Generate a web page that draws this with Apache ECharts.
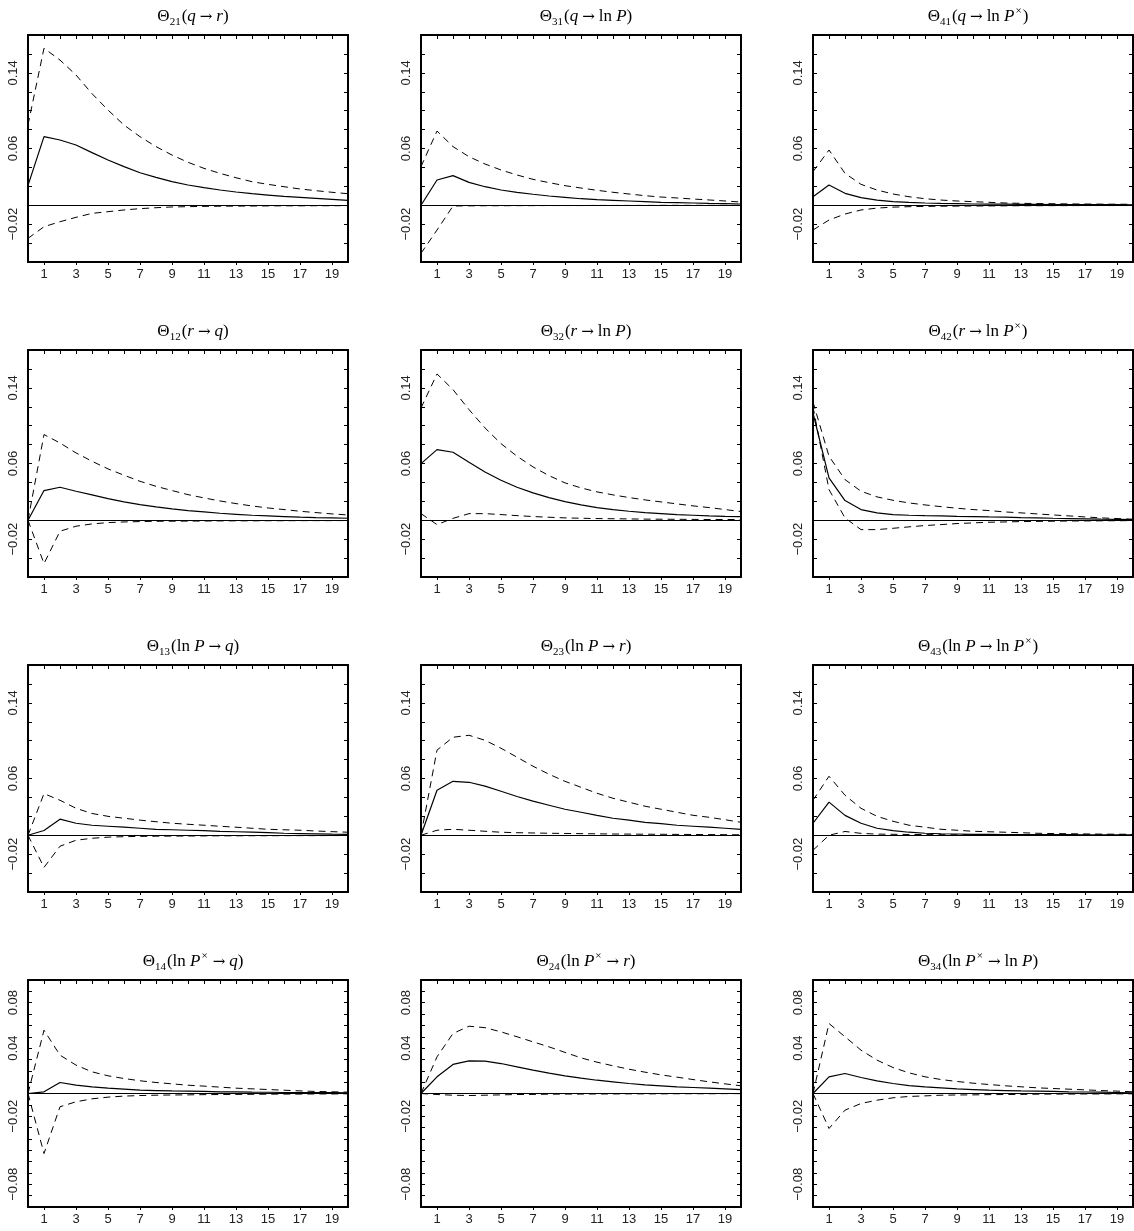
<!DOCTYPE html>
<html>
<head>
<meta charset="utf-8">
<title>impulse responses</title>
<script src="https://cdn.jsdelivr.net/npm/echarts@6/dist/echarts.min.js"></script>
<style>
html, body { margin: 0; padding: 0; background: #fff; }
#main { width: 1134px; height: 1231px; }
</style>
</head>
<body>
<div id="main"></div>
<script>
// horizon 0..20
var horizon = [0,1,2,3,4,5,6,7,8,9,10,11,12,13,14,15,16,17,18,19,20];

// row 1
var t21_mid = [0.021,0.0725,0.069,0.0637,0.0556,0.0478,0.0408,0.0344,0.0295,0.0249,0.0214,0.0186,0.0161,0.014,0.0122,0.0108,0.0094,0.0084,0.0073,0.0063,0.0052];
var t21_hi  = [0.085,0.166,0.1535,0.1377,0.118,0.1007,0.0848,0.0725,0.062,0.0531,0.0454,0.039,0.0337,0.0291,0.0249,0.0221,0.0196,0.0172,0.0154,0.0137,0.0122];
var t21_lo  = [-0.035,-0.0227,-0.0174,-0.0128,-0.0086,-0.0068,-0.005,-0.0036,-0.0026,-0.0018,-0.0015,-0.0012,-0.001,-0.0009,-0.0008,-0.0007,-0.0006,-0.0006,-0.0005,-0.0005,-0.0004];

var t31_mid = [0,0.0267,0.0313,0.0242,0.0196,0.0161,0.0137,0.0116,0.0098,0.0084,0.0069,0.0059,0.0052,0.0045,0.0038,0.0031,0.0028,0.0024,0.002,0.0017,0.0013];
var t31_hi  = [0.0408,0.0785,0.062,0.0513,0.0436,0.0373,0.032,0.0274,0.0239,0.0207,0.0182,0.0158,0.0137,0.0119,0.0101,0.0087,0.0077,0.0066,0.0056,0.0045,0.0034];
var t31_lo  = [-0.0508,-0.0262,-0.0008,-0.0006,-0.0005,-0.0005,-0.0004,-0.0004,-0.0003,-0.0003,-0.0003,-0.0002,-0.0002,-0.0002,-0.0002,-0.0001,-0.0001,-0.0001,-0.0001,-0.0001,-0.0001];

var t41_mid = [0.009,0.0214,0.0126,0.008,0.0055,0.0038,0.003,0.0024,0.002,0.0017,0.0013,0.0012,0.0011,0.001,0.0009,0.0008,0.0007,0.0007,0.0006,0.0006,0.0005];
var t41_hi  = [0.0355,0.0584,0.0337,0.0221,0.0161,0.0119,0.009,0.0069,0.0055,0.0045,0.0038,0.0031,0.0024,0.002,0.0018,0.0016,0.0014,0.0013,0.0012,0.0011,0.001];
var t41_lo  = [-0.0262,-0.0156,-0.0093,-0.005,-0.003,-0.002,-0.0015,-0.0012,-0.001,-0.0009,-0.0008,-0.0007,-0.0006,-0.0005,-0.0005,-0.0004,-0.0004,-0.0003,-0.0003,-0.0003,-0.0003];

// row 2
var t12_mid = [0,0.0314,0.0349,0.0307,0.0268,0.0229,0.0194,0.0166,0.0141,0.012,0.0102,0.0088,0.0074,0.0063,0.0053,0.0046,0.0039,0.0032,0.0028,0.0025,0.0021];
var t12_hi  = [0,0.0906,0.0817,0.0712,0.0624,0.0543,0.0476,0.0412,0.0359,0.0314,0.0271,0.0236,0.0204,0.0176,0.0151,0.013,0.0113,0.0095,0.0081,0.0067,0.0056];
var t12_lo  = [0,-0.0458,-0.0116,-0.0063,-0.0039,-0.0025,-0.0018,-0.0014,-0.0011,-0.001,-0.0009,-0.0008,-0.0007,-0.0006,-0.0006,-0.0005,-0.0005,-0.0004,-0.0004,-0.0004,-0.0003];

var t32_mid = [0.0599,0.0747,0.0719,0.0613,0.0511,0.0423,0.0349,0.0289,0.024,0.0197,0.0162,0.0134,0.0113,0.0095,0.0081,0.007,0.006,0.0053,0.0046,0.0042,0.0039];
var t32_hi  = [0.1187,0.1547,0.1381,0.117,0.0976,0.081,0.0677,0.0564,0.0472,0.0395,0.0342,0.03,0.0268,0.024,0.0215,0.0194,0.0173,0.0152,0.0134,0.0113,0.0092];
var t32_lo  = [0.007,-0.0046,0.002,0.007,0.007,0.006,0.0049,0.0039,0.0032,0.0025,0.0021,0.0018,0.0016,0.0014,0.0012,0.0011,0.001,0.0009,0.0008,0.0008,0.0007];

var t42_mid = [0.1134,0.0447,0.0208,0.0113,0.0078,0.006,0.0053,0.0049,0.0046,0.0042,0.0039,0.0035,0.0032,0.0028,0.0025,0.0021,0.0018,0.0015,0.0012,0.001,0.0007];
var t42_hi  = [0.125,0.0677,0.043,0.0307,0.0247,0.0211,0.0183,0.0162,0.0144,0.0127,0.0113,0.0102,0.0088,0.0078,0.0067,0.0056,0.0046,0.0035,0.0025,0.0018,0.0011];
var t42_lo  = [0.12,0.0324,0.0025,-0.0099,-0.0099,-0.0085,-0.007,-0.0056,-0.0046,-0.0035,-0.0028,-0.0021,-0.0018,-0.0014,-0.0012,-0.001,-0.0008,-0.0007,-0.0006,-0.0005,-0.0004];

// row 3
var t13_mid = [0,0.005,0.017,0.0127,0.0106,0.0095,0.0085,0.0074,0.0063,0.0058,0.0053,0.0048,0.0042,0.0037,0.0032,0.0027,0.0021,0.0018,0.0015,0.0012,0.001];
var t13_hi  = [0,0.044,0.037,0.0285,0.023,0.02,0.018,0.016,0.0143,0.0127,0.0116,0.0106,0.0095,0.0085,0.0074,0.0063,0.0058,0.0053,0.0045,0.0038,0.0032];
var t13_lo  = [0,-0.034,-0.0116,-0.0053,-0.0032,-0.002,-0.0015,-0.0012,-0.001,-0.0009,-0.0008,-0.0007,-0.0006,-0.0006,-0.0005,-0.0005,-0.0004,-0.0004,-0.0004,-0.0003,-0.0003];

var t23_mid = [0,0.0476,0.057,0.056,0.052,0.0465,0.041,0.036,0.0317,0.0275,0.0243,0.0211,0.018,0.0159,0.0137,0.0122,0.0106,0.0095,0.0085,0.0074,0.0063];
var t23_hi  = [0,0.09,0.1036,0.1057,0.1004,0.092,0.0825,0.073,0.0645,0.057,0.0507,0.0444,0.0391,0.0349,0.0307,0.0275,0.0243,0.0211,0.019,0.0164,0.0137];
var t23_lo  = [0,0.0053,0.0063,0.0053,0.0042,0.0032,0.0027,0.0024,0.0021,0.0019,0.0017,0.0015,0.0013,0.0012,0.0011,0.001,0.0009,0.0008,0.0007,0.0006,0.0005];

var t43_mid = [0.0127,0.035,0.021,0.0127,0.0074,0.0048,0.0032,0.0021,0.0016,0.0013,0.001,0.0009,0.0008,0.0007,0.0007,0.0006,0.0006,0.0005,0.0005,0.0005,0.0005];
var t43_hi  = [0.037,0.0624,0.0423,0.0285,0.02,0.0148,0.0106,0.0085,0.0063,0.0053,0.0042,0.0037,0.0032,0.0027,0.0021,0.0018,0.0016,0.0014,0.0012,0.0011,0.001];
var t43_lo  = [-0.0159,0,0.004,0.002,0.0012,0.001,0.0008,0.0007,0.0006,0.0005,0.0005,0.0004,0.0004,0.0004,0.0003,0.0003,0.0003,0.0003,0.0002,0.0002,0.0002];

// row 4
var t14_mid = [0,0.0015,0.0097,0.0073,0.0059,0.0047,0.0038,0.0029,0.0026,0.0023,0.0021,0.0018,0.0015,0.0014,0.0012,0.0011,0.0009,0.0008,0.0007,0.0007,0.0006];
var t14_hi  = [0,0.0558,0.0338,0.025,0.0191,0.0156,0.0132,0.0112,0.0097,0.0085,0.0073,0.0065,0.0056,0.0047,0.0041,0.0035,0.0029,0.0023,0.0018,0.0015,0.0012];
var t14_lo  = [0,-0.0529,-0.0117,-0.0073,-0.0047,-0.0032,-0.0023,-0.0018,-0.0015,-0.0013,-0.0012,-0.001,-0.0009,-0.0008,-0.0007,-0.0006,-0.0005,-0.0005,-0.0004,-0.0004,-0.0003];

var t24_mid = [0,0.0147,0.0256,0.0288,0.0285,0.0264,0.0235,0.0206,0.0179,0.0156,0.0135,0.0117,0.0103,0.0088,0.0076,0.0068,0.0059,0.0053,0.0047,0.0041,0.0035];
var t24_hi  = [0,0.0323,0.0529,0.0593,0.058,0.0543,0.05,0.0455,0.0411,0.0362,0.0314,0.0276,0.0244,0.0214,0.0188,0.0164,0.0144,0.0123,0.0103,0.0085,0.0068];
var t24_lo  = [0,-0.0009,-0.0015,-0.0018,-0.0015,-0.0012,-0.0009,-0.0008,-0.0006,-0.0005,-0.0005,-0.0004,-0.0004,-0.0003,-0.0003,-0.0003,-0.0002,-0.0002,-0.0002,-0.0001,-0.0001];

var t34_mid = [0,0.0147,0.0176,0.0141,0.0112,0.0088,0.007,0.0059,0.005,0.0041,0.0035,0.0029,0.0026,0.0023,0.0021,0.0018,0.0015,0.0013,0.0012,0.0009,0.0006];
var t34_hi  = [0,0.0617,0.05,0.0382,0.0294,0.0229,0.0182,0.0147,0.0123,0.0106,0.0091,0.0079,0.0068,0.0059,0.005,0.0044,0.0038,0.0032,0.0026,0.0021,0.0015];
var t34_lo  = [0,-0.0308,-0.0147,-0.0088,-0.0059,-0.0038,-0.0026,-0.0021,-0.0015,-0.0013,-0.0012,-0.001,-0.0009,-0.0008,-0.0006,-0.0005,-0.0005,-0.0004,-0.0004,-0.0003,-0.0003];

// axis ticks / labels
var xLabels = [1,3,5,7,9,11,13,15,17,19];
var yLabelsTop = [-0.02, 0.06, 0.14];
var yLabelsBottom = [-0.08, -0.02, 0.04, 0.08];

// titles: rich text pieces
var titles = [
  ['{n|Θ}{sb|21}{n|(}{i|q}{a|→}{i|r}{n|)}', '{n|Θ}{sb|31}{n|(}{i|q}{a|→}{n|ln }{i|P}{n|)}', '{n|Θ}{sb|41}{n|(}{i|q}{a|→}{n|ln }{i|P}{sp|×}{n|)}'],
  ['{n|Θ}{sb|12}{n|(}{i|r}{a|→}{i|q}{n|)}', '{n|Θ}{sb|32}{n|(}{i|r}{a|→}{n|ln }{i|P}{n|)}', '{n|Θ}{sb|42}{n|(}{i|r}{a|→}{n|ln }{i|P}{sp|×}{n|)}'],
  ['{n|Θ}{sb|13}{n|(ln }{i|P}{a|→}{i|q}{n|)}', '{n|Θ}{sb|23}{n|(ln }{i|P}{a|→}{i|r}{n|)}', '{n|Θ}{sb|43}{n|(ln }{i|P}{a|→}{n|ln }{i|P}{sp|×}{n|)}'],
  ['{n|Θ}{sb|14}{n|(ln }{i|P}{sp|×}{a|→}{i|q}{n|)}', '{n|Θ}{sb|24}{n|(ln }{i|P}{sp|×}{a|→}{i|r}{n|)}', '{n|Θ}{sb|34}{n|(ln }{i|P}{sp|×}{a|→}{n|ln }{i|P}{n|)}']
];
var panelData = [
  [[t21_lo, t21_mid, t21_hi], [t31_lo, t31_mid, t31_hi], [t41_lo, t41_mid, t41_hi]],
  [[t12_lo, t12_mid, t12_hi], [t32_lo, t32_mid, t32_hi], [t42_lo, t42_mid, t42_hi]],
  [[t13_lo, t13_mid, t13_hi], [t23_lo, t23_mid, t23_hi], [t43_lo, t43_mid, t43_hi]],
  [[t14_lo, t14_mid, t14_hi], [t24_lo, t24_mid, t24_hi], [t34_lo, t34_mid, t34_hi]]
];

var rowTop = [35, 350, 665, 980];
var colLeft = [28, 421, 813];
var boxW = 320, boxH = 227;

var serif = "'Liberation Serif', 'DejaVu Serif', serif";
var sans = "'Liberation Sans', 'DejaVu Sans', sans-serif";

function pairs(ys){
  var out = [];
  for (var i = 0; i < horizon.length; i++) out.push([horizon[i], ys[i]]);
  return out;
}
function fmtY(v){
  return v.toFixed(2).replace('-', '\u2212');
}

var grids = [], xAxes = [], yAxes = [], series = [], titleList = [];
var rich = {
  n:  { fontFamily: serif, fontSize: 17, fontWeight: 'normal', color: '#000', lineHeight: 22 },
  i:  { fontFamily: serif, fontSize: 17, fontWeight: 'normal', color: '#000', fontStyle: 'italic', lineHeight: 22 },
  a:  { fontFamily: "'DejaVu Serif', serif", fontSize: 15, fontWeight: 'normal', color: '#000', lineHeight: 22, padding: [0, 4, 0, 4] },
  sb: { fontFamily: serif, fontSize: 11, fontWeight: 'normal', color: '#000', lineHeight: 11, verticalAlign: 'bottom', padding: [0, 1, 0, 0] },
  sp: { fontFamily: serif, fontSize: 11, fontWeight: 'normal', color: '#000', lineHeight: 11, verticalAlign: 'top', padding: [0, 1, 0, 1] }
};

for (var r = 0; r < 4; r++) {
  for (var c = 0; c < 3; c++) {
    var g = grids.length;
    var bottomRow = (r === 3);
    grids.push({ left: colLeft[c], top: rowTop[r], width: boxW, height: boxH });

    titleList.push({
      text: titles[r][c],
      left: colLeft[c] + boxW / 2,
      top: rowTop[r] - 34,
      textAlign: 'center',
      textStyle: { fontWeight: 'normal', rich: rich }
    });

    var axLine = { show: true, onZero: false, lineStyle: { color: '#000', width: 2 } };
    // bottom x
    xAxes.push({
      gridIndex: g, type: 'value', min: 0, max: 20, interval: 1,
      axisLine: axLine, splitLine: { show: false },
      axisTick: { show: true, inside: false, length: 3, customValues: xLabels, lineStyle: { color: '#000' } },
      axisLabel: { customValues: xLabels, margin: 6, fontFamily: sans, fontSize: 13, color: '#222' }
    });
    // top x (frame + ticks)
    xAxes.push({
      gridIndex: g, type: 'value', position: 'top', min: 0, max: 20, interval: 1,
      axisLine: axLine, splitLine: { show: false },
      axisTick: { show: true, inside: true, length: 4, lineStyle: { color: '#000' } },
      axisLabel: { show: false }
    });
    var ymin = bottomRow ? -0.1 : -0.06;
    var ymax = bottomRow ? 0.1 : 0.18;
    var yint = bottomRow ? 0.01 : 0.02;
    yAxes.push({
      gridIndex: g, type: 'value', min: ymin, max: ymax, interval: yint,
      axisLine: axLine, splitLine: { show: false },
      axisTick: { show: true, inside: true, length: 4, lineStyle: { color: '#000' } },
      axisLabel: {
        customValues: bottomRow ? yLabelsBottom : yLabelsTop,
        rotate: 90, margin: 8, fontFamily: sans, fontSize: 13, color: '#222',
        formatter: fmtY
      }
    });
    yAxes.push({
      gridIndex: g, type: 'value', position: 'right', min: ymin, max: ymax, interval: yint,
      axisLine: axLine, splitLine: { show: false },
      axisTick: { show: true, inside: true, length: 4, lineStyle: { color: '#000' } },
      axisLabel: { show: false }
    });

    var d = panelData[r][c];
    var xi = g * 2, yi = g * 2;
    series.push({
      type: 'line', xAxisIndex: xi, yAxisIndex: yi, data: pairs(d[1]),
      showSymbol: false, symbol: 'none', silent: true,
      lineStyle: { color: '#000', width: 1.2, type: 'solid' },
      markLine: {
        silent: true, symbol: 'none', animation: false,
        label: { show: false },
        lineStyle: { color: '#000', width: 1, type: 'solid' },
        data: [{ yAxis: 0 }]
      }
    });
    series.push({
      type: 'line', xAxisIndex: xi, yAxisIndex: yi, data: pairs(d[0]),
      showSymbol: false, symbol: 'none', silent: true,
      lineStyle: { color: '#000', width: 1, type: [7, 5] }
    });
    series.push({
      type: 'line', xAxisIndex: xi, yAxisIndex: yi, data: pairs(d[2]),
      showSymbol: false, symbol: 'none', silent: true,
      lineStyle: { color: '#000', width: 1, type: [7, 5] }
    });
  }
}

var myChart = echarts.init(document.getElementById('main'), null, { renderer: 'canvas' });
var option = {
  backgroundColor: '#fff',
  animation: false,
  title: titleList,
  grid: grids,
  xAxis: xAxes,
  yAxis: yAxes,
  series: series
};
myChart.setOption(option);
</script>
</body>
</html>
